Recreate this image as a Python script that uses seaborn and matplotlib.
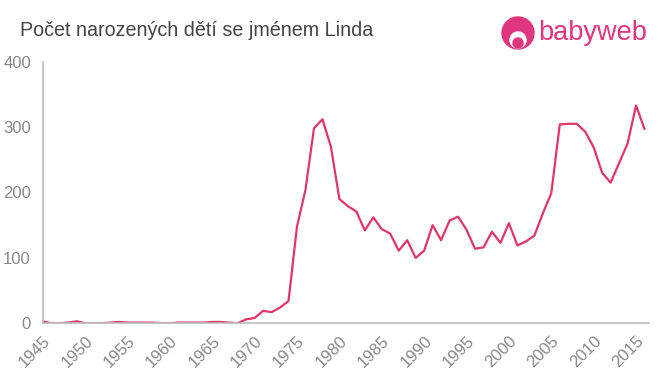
import matplotlib
matplotlib.use("Agg")
import matplotlib.pyplot as plt
import seaborn as sns
import pandas as pd
from matplotlib.patches import Ellipse

years = list(range(1945, 2017))
counts = [3, 0, 0, 1, 3, 0, 0, 0, 1, 2, 1, 1, 1, 1, 0, 0, 1, 1, 1, 1,
          2, 2, 1, 0, 6, 8, 19, 17, 24, 34,
          148, 204, 298, 312, 270, 190, 179, 171, 142, 162, 144, 137, 111, 127, 100, 111,
          150, 127, 157, 163, 143, 114, 116, 140, 123, 153, 119, 125, 134, 168, 199,
          304, 305, 305, 293, 269, 230, 215, 245, 275, 333, 297]
xticks = list(range(1945, 2016, 5))
yticks = [0, 100, 200, 300, 400]
title = "Počet narozených dětí se jménem Linda"

df = pd.DataFrame({"year": years, "count": counts})

sns.set_style("white")
plt.rcParams['font.family'] = ['Liberation Sans', 'DejaVu Sans']

fig = plt.figure(figsize=(6.6, 3.75), dpi=100)
ax = fig.add_axes([0.0647, 0.138, 0.9183, 0.6975])
sns.lineplot(data=df, x="year", y="count", ax=ax, color="#df3668", linewidth=1.6)

ax.set_xlim(1945, 2016.5)
ax.set_ylim(0, 400)
ax.set_xticks(xticks)
ax.set_yticks(yticks)
ax.set_xticklabels([str(x) for x in xticks], rotation=45, ha="right", rotation_mode="anchor")
ax.set_xlabel("")
ax.set_ylabel("")
for s in ["top", "right"]:
    ax.spines[s].set_visible(False)
for s in ["left", "bottom"]:
    ax.spines[s].set_color("#bbbbbb")
    ax.spines[s].set_linewidth(1.2)
ax.tick_params(axis="both", colors="#bbbbbb", labelcolor="#888888", labelsize=12,
               length=5, width=1.2, direction="out")
ax.tick_params(axis="x", pad=2)

fig.text(0.03, 0.92, title, fontsize=14.2, color="#444444", ha="left", va="center")

# logo
fig.text(0.815, 0.912, "babyweb", fontsize=19.5, color="#e0357f", ha="left", va="center")
W, H = 660, 375
def circ(cx, cy, r, color):
    fig.patches.append(Ellipse((cx / W, 1 - cy / H), 2 * r / W, 2 * r / H,
                               transform=fig.transFigure, color=color))
circ(518, 33, 16, "#e0357f")
circ(518, 40, 8, "white")
circ(518, 43, 5, "#e0357f")

fig.savefig("out.png", dpi=100)
